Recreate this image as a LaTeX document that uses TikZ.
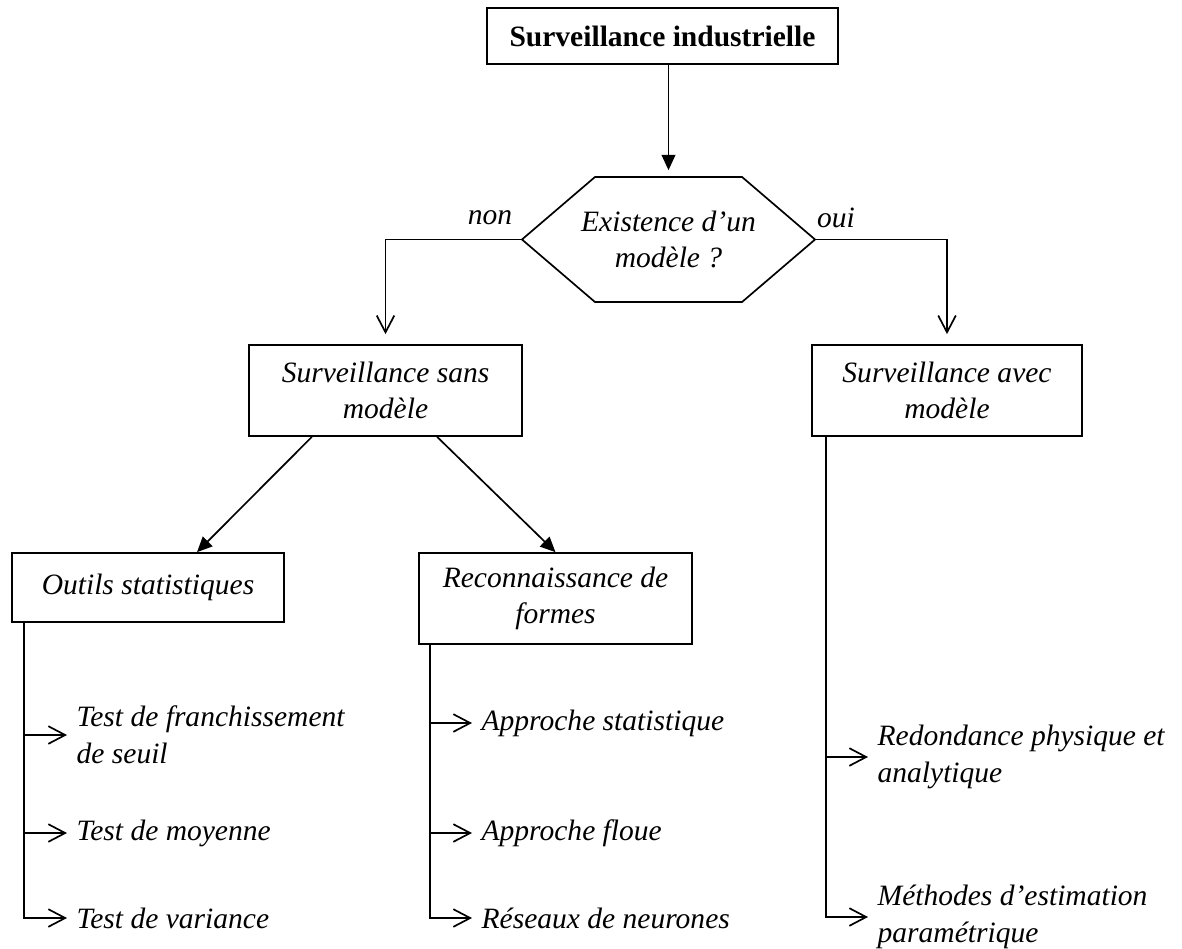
\documentclass[tikz,border=0pt]{standalone}
\usepackage{fontspec}
\setmainfont{Liberation Serif}
\usetikzlibrary{arrows.meta}
\begin{document}
\begin{tikzpicture}[x=0.025cm,y=-0.025cm,line width=1.2pt]
% Set styles for boxes, leaves and arrows
\tikzstyle{Box}=[draw,rectangle,align=center,font=\itshape\fontsize{21}{26}\selectfont]
\tikzstyle{Leaf}=[anchor=west,align=left,inner xsep=0.22cm,font=\itshape\fontsize{21}{26}\selectfont]
\tikzstyle{Solid}=[-{Triangle[length=0.38cm,width=0.34cm]}]
\tikzstyle{Barb}=[-{Straight Barb[length=0.42cm,width=0.44cm]}]
\tikzstyle{Open}=[Barb,shorten >=0.25cm]
\useasboundingbox (0,0) rectangle (1182,948);
% Nodes
\node[Box,font=\bfseries\fontsize{21}{26}\selectfont,minimum width=8.775cm,minimum height=1.4cm] at (662.5,36) (top) {Surveillance industrielle};
\node[align=center,outer sep=0pt,font=\itshape\fontsize{21}{26}\selectfont,minimum width=7.325cm,minimum height=3.125cm] at (668.5,239.5) (hex) {Existence d’un\\modèle ?};
\node[font=\itshape\fontsize{21}{26}\selectfont] at (490,218) (non) {non};
\node[font=\itshape\fontsize{21}{26}\selectfont] at (836,218) (oui) {oui};
\foreach \x/\y/\w/\h/\t/\n in {
    385.5/390.5/6.825/2.275/{Surveillance sans\\modèle}/sans,
    947/390.5/6.75/2.275/{Surveillance avec\\modèle}/avec,
    148/587.5/6.8/1.725/{Outils statistiques}/outils,
    555.5/598.5/6.825/2.275/{Reconnaissance de\\formes}/reco}
  \node[Box,minimum width=\w cm,minimum height=\h cm] at (\x,\y) (\n) {\t};
\foreach \x/\y/\t/\n in {
    67/735/{Test de franchissement\\de seuil}/l1,
    67/833/{Test de moyenne}/l2,
    67/918/{Test de variance}/l3,
    472/723/{Approche statistique}/l4,
    472/833/{Approche floue}/l5,
    472/918/{Réseaux de neurones}/l6,
    868/757/{Redondance physique et\\analytique}/l7,
    868/917/{Méthodes d’estimation\\paramétrique}/l8}
  \node[Leaf] at (\x,\y) (\n) {\t};
% Hexagon
\draw ([xshift=1.825cm]hex.north west) -- ([xshift=-1.825cm]hex.north east) -- (hex.east)
  -- ([xshift=-1.825cm]hex.south east) -- ([xshift=1.825cm]hex.south west) -- (hex.west) -- cycle;
% Edges
\draw[Solid,shorten >=0.17cm] (top.south -| hex.north) -- (hex.north);
\draw[Open] (hex.west) -| (sans.north);
\draw[Open] (hex.east) -| (avec.north);
\draw[Solid] ([xshift=-1.84cm]sans.south) -- ([xshift=1.225cm]outils.north);
\draw[Solid] ([xshift=1.29cm]sans.south) -- (reco.north);
\foreach \p/\s/\l in {outils/13/l1, outils/13/l2, outils/13/l3,
                      reco/12/l4, reco/12/l5, reco/12/l6, avec/15/l7, avec/15/l8}
  \draw[Barb] ([xshift=\s*0.025cm]\p.south west) |- (\l.west);
\end{tikzpicture}
\end{document}
